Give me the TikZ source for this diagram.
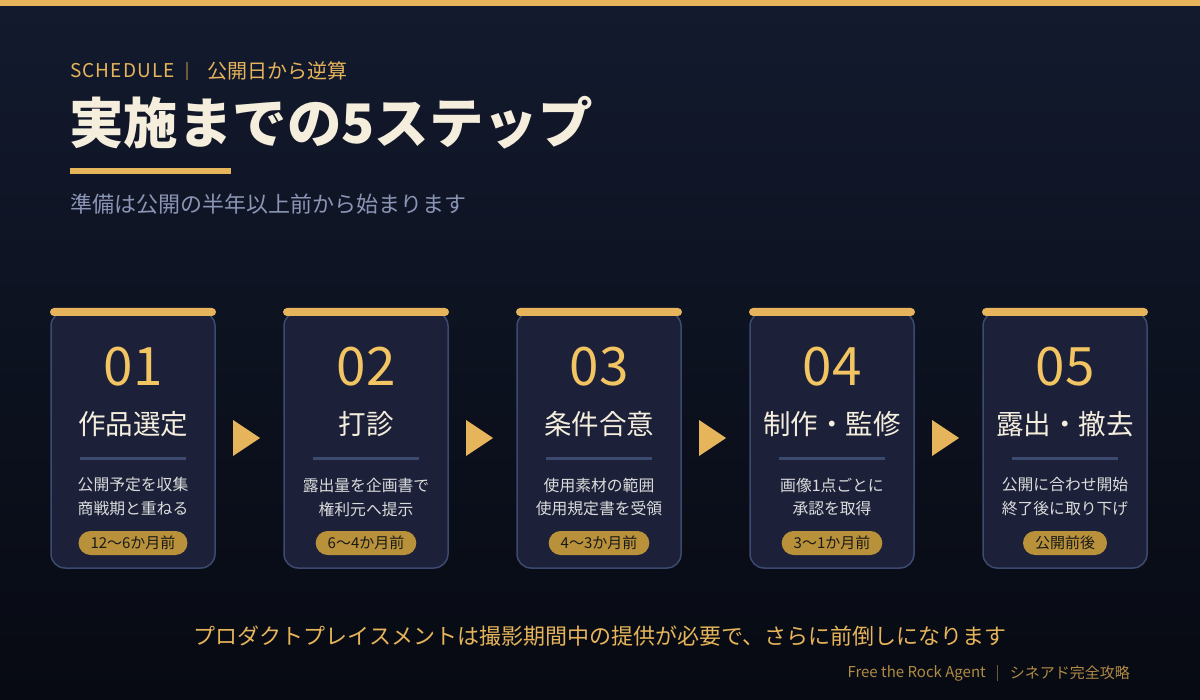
\documentclass[tikz,border=0pt]{standalone}
\usepackage{fontspec}
\setmainfont{Noto Sans CJK JP}
\definecolor{bgtop}{HTML}{131A2E}
\definecolor{bgbot}{HTML}{070A12}
\definecolor{gold}{HTML}{E6B45A}
\definecolor{numgold}{HTML}{F2C462}
\definecolor{dimgold}{HTML}{6B5A3A}
\definecolor{cream}{HTML}{F5EEDD}
\definecolor{subgray}{HTML}{8A94B4}
\definecolor{cardfill}{HTML}{1C2139}
\definecolor{cardline}{HTML}{3B4A6E}
\definecolor{desc}{HTML}{DCDCDC}
\definecolor{badgefill}{HTML}{B8913A}
\definecolor{badgetext}{HTML}{1A1A1A}
\definecolor{footgold}{HTML}{B08A45}
\newcommand{\fs}[1]{\fontsize{#1}{#1}\selectfont}
\tikzset{
  txt/.style={inner sep=0pt},
  card/.style={draw=cardline, line width=1.5pt, fill=cardfill, rounded corners=14pt, minimum width=164pt, minimum height=256pt, inner sep=0pt},
  badge/.style={fill=badgefill, text=badgetext, rounded corners=12pt, minimum height=24pt, inner xsep=12pt, inner ysep=0pt, font=\fs{15}},
  divline/.style={draw=cardline, line width=3pt},
}
\begin{document}
\begin{tikzpicture}[x=1pt,y=-1pt]
\useasboundingbox (0,0) rectangle (1200,700);
\shade[top color=bgtop, bottom color=bgbot] (0,0) rectangle (1200,700);
\fill[gold] (0,0) rectangle (1200,6);
% header
\node[txt, anchor=west, text=gold, font=\fs{19}\addfontfeatures{LetterSpace=6}] (sched) at (70,71) {SCHEDULE};
\draw[dimgold, line width=1.2pt] (187,62) -- (187,80);
\node[txt, anchor=west, text=gold, font=\fs{20}] (gyaku) at (207,71) {公開日から逆算};
\node[txt, anchor=west, text=cream, font=\fs{54.5}\bfseries] (title) at (69,123) {実施までの5ステップ};
\fill[gold] (70,168) rectangle (231,174);
\node[txt, anchor=west, text=subgray, font=\fs{22}] (sub) at (70,204) {準備は公開の半年以上前から始まります};
% cards
\foreach \i/\num/\ttl/\da/\db/\bd in {
  1/01/作品選定/公開予定を収集/商戦期と重ねる/12〜6か月前,
  2/02/打診/露出量を企画書で/権利元へ提示/6〜4か月前,
  3/03/条件合意/使用素材の範囲/使用規定書を受領/4〜3か月前,
  4/04/制作・監修/画像1点ごとに/承認を取得/3〜1か月前,
  5/05/露出・撤去/公開に合わせ開始/終了後に取り下げ/公開前後}{
  \pgfmathsetmacro\cx{133+233*(\i-1)}
  \node[card] (c\i) at (\cx,440) {};
  \fill[gold, rounded corners=4pt] (\cx-83,308) rectangle (\cx+83,316);
  \node[txt, text=numgold, font=\fs{53}] (n\i) at (\cx,367) {\num};
  \node[txt, text=cream, font=\fs{27.5}] (t\i) at (\cx,424) {\ttl};
  \draw[divline] (\cx-53,459) -- (\cx+53,459);
  \node[txt, text=desc, font=\fs{15.8}] (da\i) at (\cx,485) {\da};
  \node[txt, text=desc, font=\fs{15.8}] (db\i) at (\cx,509) {\db};
  \node[badge] (b\i) at (\cx,543) {\bd};
}
\foreach \i in {1,2,3,4}{
  \pgfmathsetmacro\cx{133+233*(\i-1)}
  \coordinate (a\i) at (\cx+100,438);
  \fill[gold] ([yshift=-18pt]a\i) -- ([xshift=27pt]a\i) -- ([yshift=18pt]a\i) -- cycle;
}
% bottom
\node[txt, text=gold, font=\fs{22}] (note) at (600,636) {プロダクトプレイスメントは撮影期間中の提供が必要で、さらに前倒しになります};
\node[txt, anchor=east, text=footgold, font=\fs{15}] (foot2) at (1130,673) {シネアド完全攻略};
\draw[dimgold, line width=1pt] (997,665) -- (997,681);
\node[txt, anchor=east, text=footgold, font=\fs{15}] (foot1) at (986,673) {Free the Rock Agent};
\end{tikzpicture}
\end{document}
